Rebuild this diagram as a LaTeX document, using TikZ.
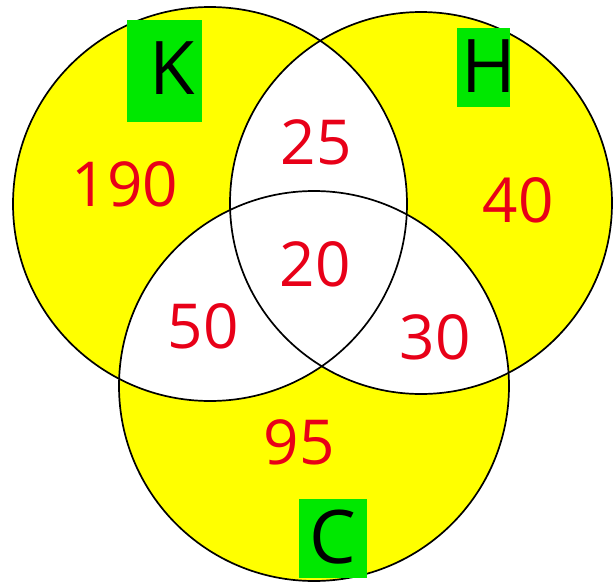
\documentclass[tikz,border=0pt]{standalone}
\usepackage{fontspec}
\setmainfont{Open Sans}
\definecolor{vyellow}{RGB}{255,255,0}
\definecolor{vgreen}{RGB}{0,232,0}
\definecolor{vred}{RGB}{232,0,24}
\begin{document}
\begin{tikzpicture}[x=1pt,y=-1pt,
  num/.style={text=vred, font=\fontsize{62}{62}\selectfont, inner sep=0pt},
  lbl/.style={text=black, font=\fontsize{74}{74}\selectfont, inner sep=0pt},
  ring/.style={draw=black, line width=1.7pt},
  hl/.style={fill=vgreen}]
\useasboundingbox (0,0) rectangle (616,584);
\coordinate (cK) at (210,204);
\coordinate (cH) at (421,203);
\coordinate (cC) at (314,386);
% yellow fill
\fill[vyellow] (cK) circle (197pt);
\fill[vyellow] (cH) circle (191pt);
\fill[vyellow] (cC) circle (195pt);
% white pairwise overlaps
\begin{scope}
  \clip (cK) circle (197pt);
  \fill[white] (cH) circle (191pt);
  \fill[white] (cC) circle (195pt);
\end{scope}
\begin{scope}
  \clip (cH) circle (191pt);
  \fill[white] (cC) circle (195pt);
\end{scope}
% outlines
\draw[ring] (cK) circle (197pt);
\draw[ring] (cH) circle (191pt);
\draw[ring] (cC) circle (195pt);
% green highlights
\fill[hl] (127,20) rectangle (202,122);
\fill[hl] (457,28) rectangle (510,107);
\fill[hl] (299,499) rectangle (367,578);
% labels
\node[lbl] (lK) at (172,68) {K};
\node[lbl] (lH) at (489,66) {H};
\node[lbl] (lC) at (333,537) {C};
% numbers
\node[num] (n190) at (125,184) {190};
\node[num] (n25) at (316,142) {25};
\node[num] (n40) at (518,200) {40};
\node[num] (n20) at (315,264) {20};
\node[num] (n50) at (203,326) {50};
\node[num] (n30) at (435,337) {30};
\node[num] (n95) at (299,442) {95};
\end{tikzpicture}
\end{document}
